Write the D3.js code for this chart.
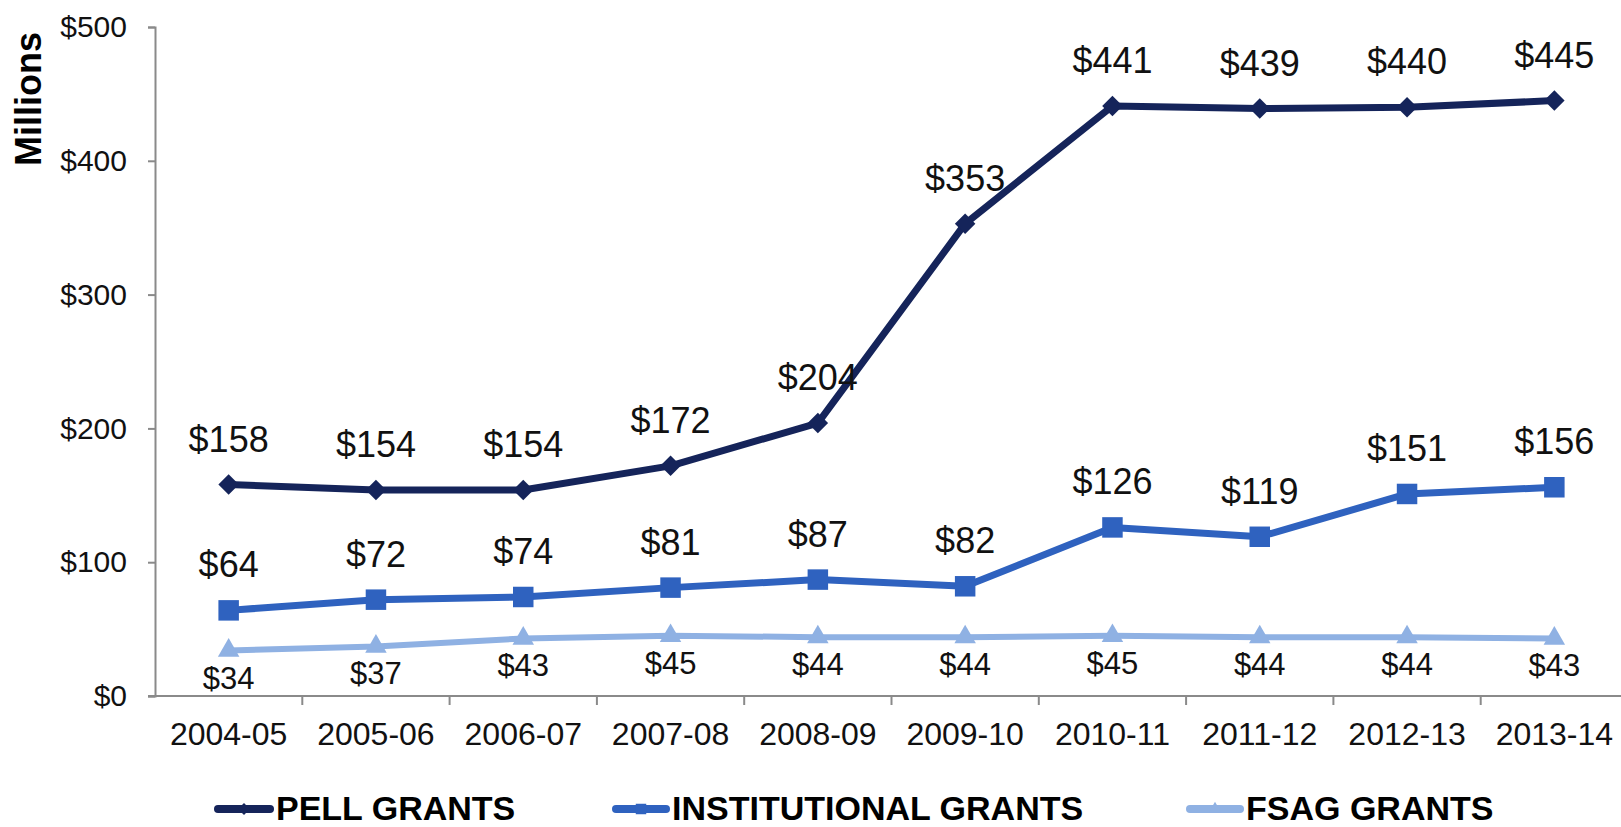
<!DOCTYPE html>
<html>
<head>
<meta charset="utf-8">
<script src="https://cdn.jsdelivr.net/npm/d3@7"></script>
<style>
  html, body { margin: 0; padding: 0; background: #fff; }
  svg { display: block; font-family: "Liberation Sans", Arial, sans-serif; }
</style>
</head>
<body>
<svg id="chart" width="1621" height="827"></svg>
<script>
const categories = ["2004-05","2005-06","2006-07","2007-08","2008-09","2009-10","2010-11","2011-12","2012-13","2013-14"];
const pellGrants = [158,154,154,172,204,353,441,439,440,445];
const institutionalGrants = [64,72,74,81,87,82,126,119,151,156];
const fsagGrants = [34,37,43,45,44,44,45,44,44,43];
const yTicks = [0,100,200,300,400,500];
const seriesNames = ["PELL GRANTS","INSTITUTIONAL GRANTS","FSAG GRANTS"];

const svg = d3.select("#chart");
const plot = {left: 155, right: 1628, top: 27, bottom: 696};

const x = d3.scaleBand().domain(categories).range([plot.left, plot.right]).padding(0);
const cx = c => x(c) + x.bandwidth() / 2;
const y = d3.scaleLinear().domain([0, 500]).range([plot.bottom, plot.top]);

const axisColor = "#8a8a8a";

// Y axis
const yAxis = svg.append("g")
  .attr("transform", `translate(${plot.left},0)`)
  .call(d3.axisLeft(y).tickValues(yTicks).tickFormat(d => "$" + d).tickSize(7).tickPadding(21));
yAxis.select(".domain").attr("stroke", axisColor).attr("stroke-width", 2);
yAxis.selectAll(".tick line").attr("stroke", axisColor).attr("stroke-width", 2);
yAxis.selectAll(".tick text").attr("font-size", 30).attr("fill", "#111")
  .attr("font-family", "'Liberation Sans', Arial, sans-serif");

// X axis line
svg.append("line")
  .attr("x1", plot.left - 7).attr("x2", plot.right)
  .attr("y1", plot.bottom).attr("y2", plot.bottom)
  .attr("stroke", axisColor).attr("stroke-width", 2);
// x tick marks at band boundaries
svg.append("g").selectAll("line").data(categories.slice(1))
  .join("line")
  .attr("x1", d => x(d)).attr("x2", d => x(d))
  .attr("y1", plot.bottom).attr("y2", plot.bottom + 9)
  .attr("stroke", axisColor).attr("stroke-width", 2);
// x tick labels
svg.append("g").selectAll("text").data(categories)
  .join("text")
  .attr("x", d => cx(d)).attr("y", plot.bottom + 49)
  .attr("text-anchor", "middle").attr("font-size", 32).attr("fill", "#111")
  .text(d => d);

// Y axis title
svg.append("text")
  .attr("transform", `translate(41,99) rotate(-90)`)
  .attr("text-anchor", "middle")
  .attr("font-size", 36).attr("font-weight", "bold").attr("fill", "#000")
  .text("Millions");

const colors = ["#15245a", "#2f62bf", "#8fb1e3"];
const seriesData = [pellGrants, institutionalGrants, fsagGrants];
const widths = [7, 7, 6];

const line = d3.line().x((d, i) => cx(categories[i])).y(d => y(d));

// marker generators: [generator, rotation]
const markerDefs = [
  {gen: d3.symbol().type(d3.symbolSquare).size(210), rot: 45},
  {gen: d3.symbol().type(d3.symbolSquare).size(420), rot: 0},
  {gen: d3.symbol().type(d3.symbolTriangle).size(200), rot: 0}
];
const legendMarkerDefs = [
  {gen: d3.symbol().type(d3.symbolSquare).size(70), rot: 45},
  {gen: d3.symbol().type(d3.symbolSquare).size(110), rot: 0},
  {gen: d3.symbol().type(d3.symbolTriangle).size(70), rot: 0}
];

// draw lowest first
[2, 1, 0].forEach(s => {
  const g = svg.append("g");
  g.append("path").datum(seriesData[s])
    .attr("d", line).attr("fill", "none")
    .attr("stroke", colors[s]).attr("stroke-width", widths[s])
    .attr("stroke-linejoin", "round");
  g.selectAll("path.m").data(seriesData[s]).join("path")
    .attr("class", "m")
    .attr("transform", (d, i) => `translate(${cx(categories[i])},${y(d)}) rotate(${markerDefs[s].rot})`)
    .attr("d", markerDefs[s].gen())
    .attr("fill", colors[s]);
});

// data labels
const labelSpec = [
  {data: pellGrants, dy: -33, size: 36},
  {data: institutionalGrants, dy: -33, size: 36},
  {data: fsagGrants, dy: 38, size: 31}
];
labelSpec.forEach(spec => {
  svg.append("g").selectAll("text").data(spec.data).join("text")
    .attr("x", (d, i) => cx(categories[i]))
    .attr("y", d => y(d) + spec.dy)
    .attr("text-anchor", "middle")
    .attr("font-size", spec.size).attr("fill", "#111")
    .text(d => "$" + d);
});

// legend
const legendItems = [
  {x: 215, tx: 276},
  {x: 613, tx: 672},
  {x: 1187, tx: 1246}
];
const legY = 809;
const leg = svg.append("g");
seriesNames.forEach((name, s) => {
  const it = legendItems[s];
  leg.append("line")
    .attr("x1", it.x + 3).attr("x2", it.tx - 6)
    .attr("y1", legY).attr("y2", legY)
    .attr("stroke", colors[s]).attr("stroke-width", 8).attr("stroke-linecap", "round");
  leg.append("path")
    .attr("transform", `translate(${(it.x + it.tx - 3) / 2},${legY}) rotate(${legendMarkerDefs[s].rot})`)
    .attr("d", legendMarkerDefs[s].gen())
    .attr("fill", colors[s]);
  leg.append("text")
    .attr("x", it.tx).attr("y", legY + 11)
    .attr("font-size", 34).attr("font-weight", "bold").attr("fill", "#000")
    .text(name);
});
</script>
</body>
</html>
